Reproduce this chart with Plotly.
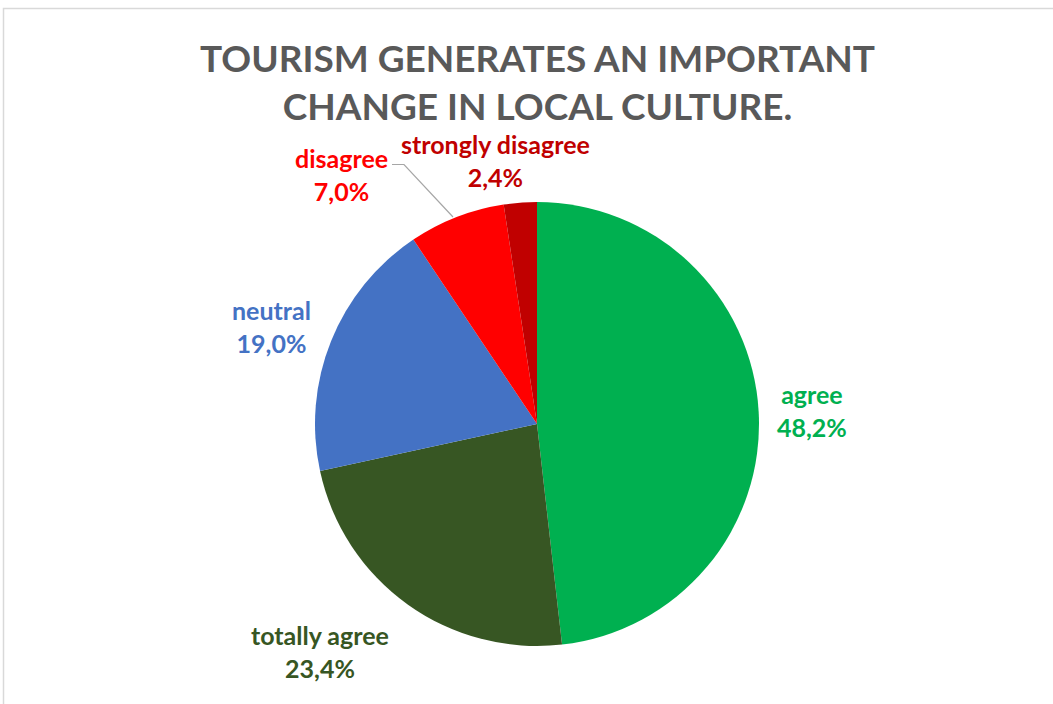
import plotly.graph_objects as go

# Survey answers, clockwise from 12 o'clock
categories = ["agree", "totally agree", "neutral", "disagree", "strongly disagree"]
shares = [48.2, 23.4, 19.0, 7.0, 2.4]
colors = ["#00B050", "#375623", "#4472C4", "#FF0000", "#C00000"]

W, H = 1053, 704

# Label centres (pixels) for each slice's outside label
label_pos = {
    "agree": (812, 410),
    "totally agree": (320, 651),
    "neutral": (271, 326),
    "disagree": (341, 174),
    "strongly disagree": (495, 160),
}


def px(x, y):
    return x / W, 1 - y / H


fig = go.Figure(
    go.Pie(
        labels=categories,
        values=shares,
        sort=False,
        direction="clockwise",
        rotation=0,
        marker=dict(colors=colors, line=dict(width=0)),
        textinfo="none",
        hoverinfo="label+percent",
        showlegend=False,
        domain=dict(x=[315 / W, 759 / W], y=[58 / H, 502 / H]),
    )
)

annotations = []
for cat, val, col in zip(categories, shares, colors):
    x, y = px(*label_pos[cat])
    pct = f"{val:.1f}".replace(".", ",") + "%"
    annotations.append(
        dict(
            x=x, y=y, xref="paper", yref="paper",
            xanchor="center", yanchor="middle",
            text=f"<b>{cat}<br>{pct}</b>",
            showarrow=False,
            font=dict(family="Lato", size=25, color=col),
        )
    )

# Two-line title
tx, ty = px(537, 82)
annotations.append(
    dict(
        x=tx, y=ty, xref="paper", yref="paper",
        xanchor="center", yanchor="middle",
        text="<b>TOURISM GENERATES AN IMPORTANT<br>CHANGE IN LOCAL CULTURE.</b>",
        showarrow=False,
        font=dict(family="Lato", size=37, color="#595959"),
    )
)

# Leader line for the "disagree" label
p1, p2, p3 = px(392, 164.5), px(404, 164.5), px(453, 217)
shapes = [
    dict(
        type="path", xref="paper", yref="paper",
        path=f"M {p1[0]},{p1[1]} L {p2[0]},{p2[1]} L {p3[0]},{p3[1]}",
        line=dict(color="#A6A6A6", width=1.2),
    ),
    # chart area frame
    dict(
        type="rect", xref="paper", yref="paper",
        x0=3.5 / W, x1=1.05, y0=-0.05, y1=1 - 8.5 / H,
        line=dict(color="#D9D9D9", width=1.5),
        fillcolor="rgba(0,0,0,0)",
    ),
]

fig.update_layout(
    width=W, height=H,
    margin=dict(l=0, r=0, t=0, b=0),
    paper_bgcolor="white",
    plot_bgcolor="white",
    separators=",.",
    annotations=annotations,
    shapes=shapes,
)

fig.write_html("out.html")
